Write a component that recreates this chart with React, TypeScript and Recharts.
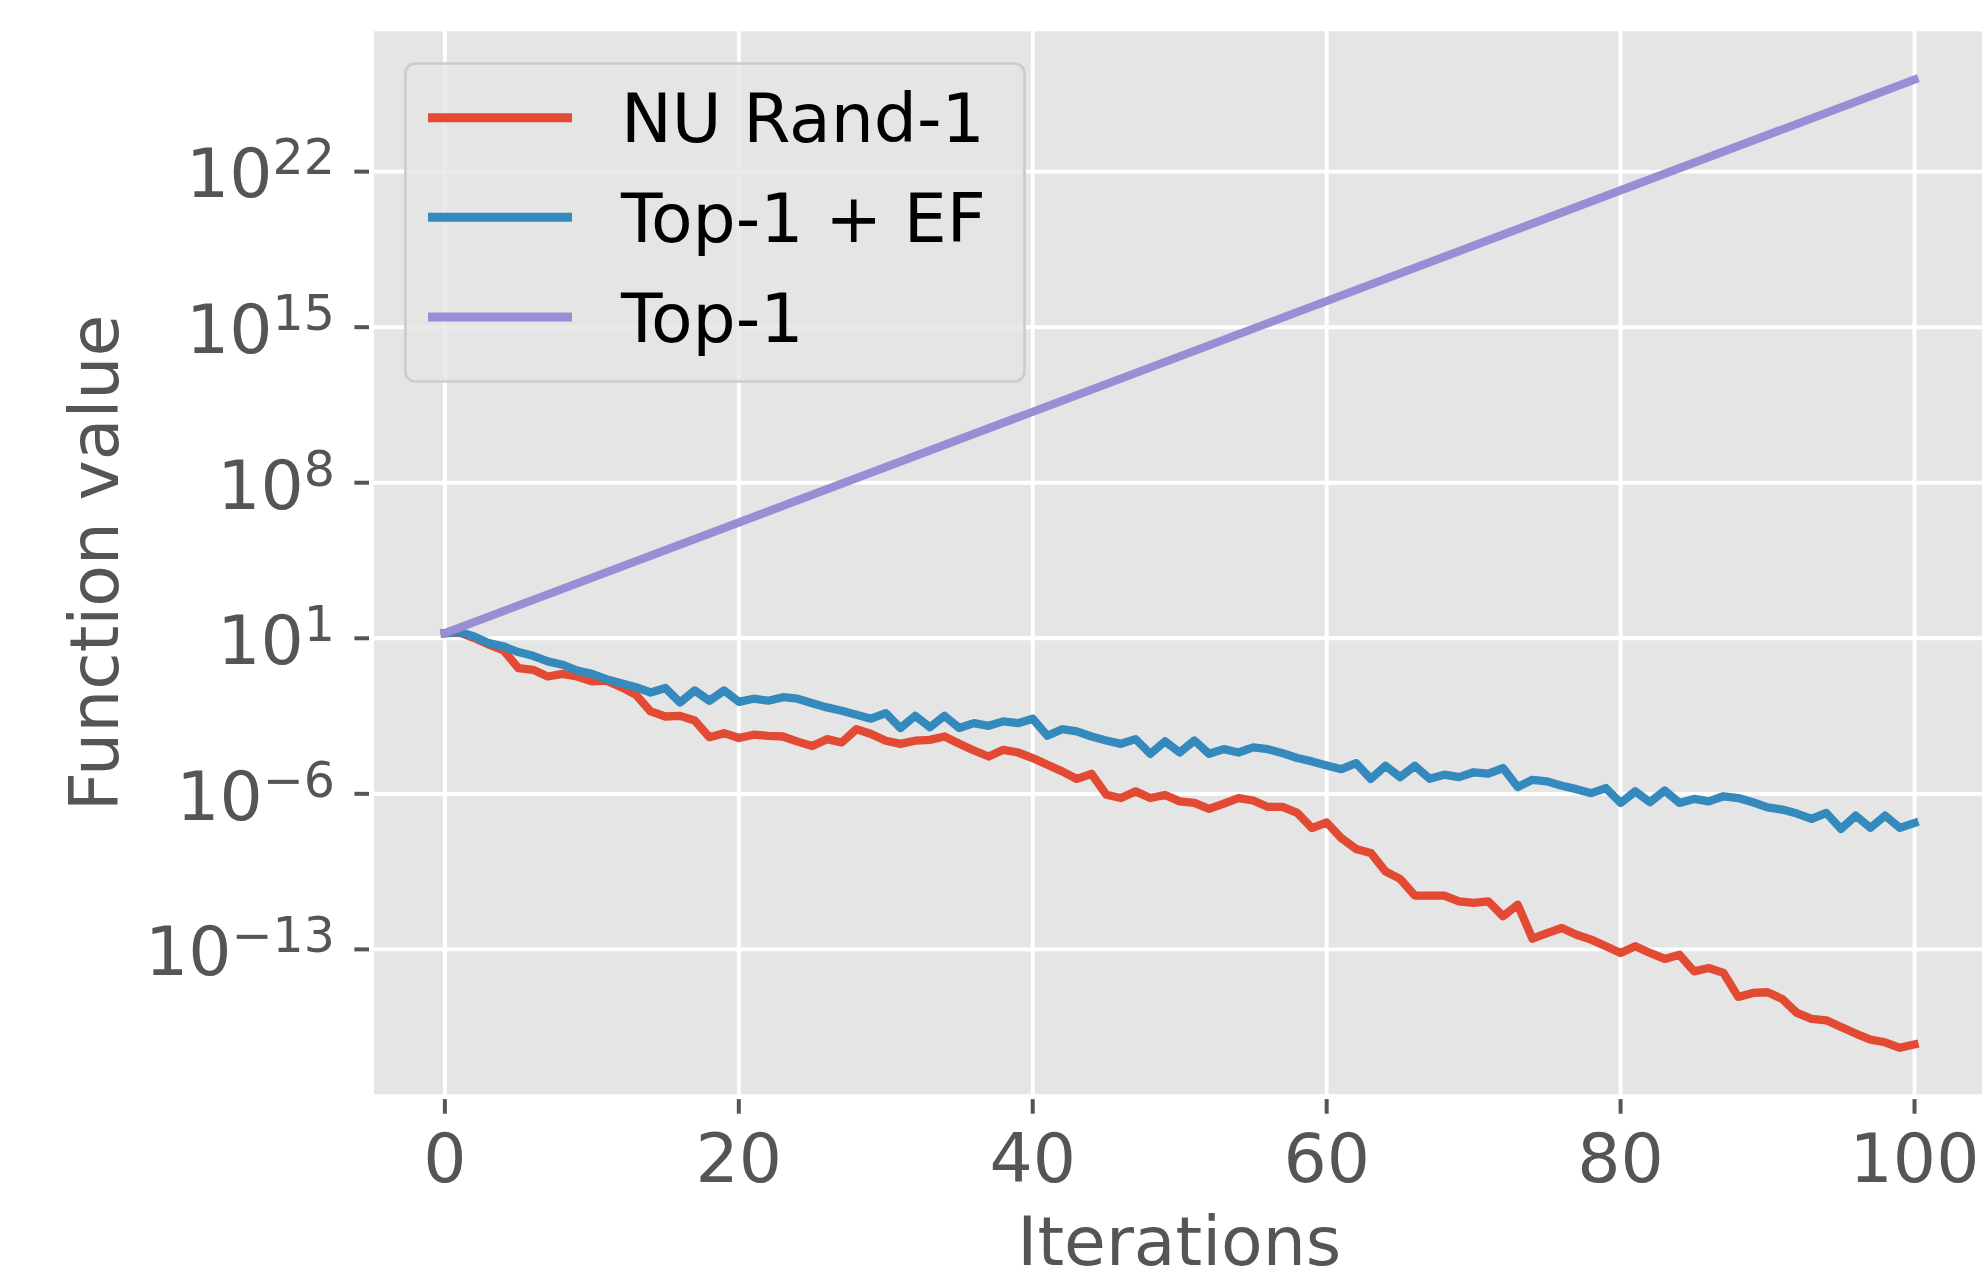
import { CartesianGrid, Label, Legend, Line, LineChart, XAxis, YAxis } from "recharts"

// log10 of the function value, one entry per iteration 0..100
const nuRand1Log = [
  1.23, 1.26, 1.01, 0.71, 0.45, -0.34, -0.42, -0.72, -0.6, -0.72,
  -0.94, -0.91, -1.2, -1.54, -2.29, -2.52, -2.49, -2.7, -3.45, -3.27,
  -3.49, -3.34, -3.39, -3.42, -3.65, -3.85, -3.54, -3.69, -3.09, -3.31,
  -3.61, -3.75, -3.61, -3.57, -3.42, -3.75, -4.05, -4.32, -4.02, -4.14,
  -4.39, -4.69, -4.99, -5.33, -5.1, -6.04, -6.19, -5.89, -6.19, -6.05,
  -6.34, -6.41, -6.68, -6.44, -6.19, -6.3, -6.59, -6.59, -6.86, -7.54,
  -7.29, -7.99, -8.48, -8.66, -9.49, -9.83, -10.58, -10.58, -10.58, -10.84,
  -10.91, -10.84, -11.51, -10.99, -12.52, -12.27, -12.04, -12.34, -12.56, -12.86,
  -13.16, -12.86, -13.16, -13.43, -13.24, -13.99, -13.84, -14.06, -15.14, -14.96,
  -14.93, -15.23, -15.86, -16.13, -16.19, -16.49, -16.79, -17.06, -17.18, -17.43,
  -17.28,
]

const topEfLog = [
  1.23, 1.28, 1.08, 0.78, 0.63, 0.38, 0.21, -0.04, -0.19, -0.45,
  -0.6, -0.84, -1.02, -1.2, -1.44, -1.24, -1.89, -1.35, -1.81, -1.35,
  -1.86, -1.72, -1.81, -1.65, -1.72, -1.92, -2.11, -2.26, -2.44, -2.62,
  -2.37, -3.04, -2.49, -3.0, -2.49, -3.04, -2.82, -2.94, -2.74, -2.82,
  -2.62, -3.39, -3.09, -3.19, -3.42, -3.6, -3.75, -3.54, -4.2, -3.64,
  -4.14, -3.6, -4.2, -3.99, -4.14, -3.91, -3.99, -4.17, -4.39, -4.54,
  -4.72, -4.89, -4.62, -5.33, -4.74, -5.25, -4.74, -5.32, -5.14, -5.25,
  -5.03, -5.09, -4.84, -5.69, -5.37, -5.44, -5.64, -5.79, -5.97, -5.74,
  -6.41, -5.89, -6.38, -5.85, -6.41, -6.23, -6.34, -6.11, -6.19, -6.38,
  -6.61, -6.71, -6.89, -7.13, -6.86, -7.58, -6.98, -7.53, -6.98, -7.53,
  -7.31,
]

// Top-1 is a straight line on the log axis: read at both ends
const top1Iters = [0, 100]
const top1Log = [1.23, 26.14]

const xTicks = [0, 20, 40, 60, 80, 100]
const yTicks = [1e22, 1e15, 1e8, 1e1, 1e-6, 1e-13]

const rows = nuRand1Log.map((v, i) => {
  const j = top1Iters.indexOf(i)
  return {
    iter: i,
    nuRand: 10 ** v,
    topEf: 10 ** topEfLog[i],
    top1: j >= 0 ? 10 ** top1Log[j] : null,
  }
})

const series = [
  { key: "nuRand", name: "NU Rand-1", color: "#E24A33" },
  { key: "topEf", name: "Top-1 + EF", color: "#348ABD" },
  { key: "top1", name: "Top-1", color: "#988ED5" },
]

const FONT = "DejaVu Sans"
const GREY = "#555555"

function XTick({ x, y, payload }: any) {
  return (
    <g>
      <line x1={x} x2={x} y1={y + 2.4} y2={y + 17} stroke={GREY} strokeWidth={4} />
      <text x={x} y={y + 85} textAnchor="middle" fill={GREY} fontSize={68} fontFamily={FONT}>
        {payload.value}
      </text>
    </g>
  )
}

function YTick({ x, y, payload }: any) {
  const e = Math.round(Math.log10(payload.value))
  const exp = e < 0 ? `\u2212${-e}` : `${e}`
  return (
    <g>
      <line x1={x - 2.4} x2={x - 17} y1={y} y2={y} stroke={GREY} strokeWidth={4} />
      <text x={x - 36.5} y={y + 25.8} textAnchor="end" fill={GREY} fontSize={68} fontFamily={FONT}>
        <tspan>10</tspan>
        <tspan dy={-23} fontSize={49}>
          {exp}
        </tspan>
      </text>
    </g>
  )
}

const renderLegend = () => (
  <svg width={624} height={322} style={{ display: "block" }}>
    <rect x={1.3} y={1.5} width={619.2} height={318} rx={10} fill="rgba(229,229,229,0.8)" stroke="#CCCCCC" strokeWidth={2.7} />
    {series.map((s, i) => {
      const cy = 55.7 + i * 99.65
      return (
        <g key={s.key}>
          <line x1={24} x2={168} y1={cy} y2={cy} stroke={s.color} strokeWidth={9} />
          <text x={217} y={cy + 24.5} fill="#000000" fontSize={68} fontFamily={FONT}>
            {s.name}
          </text>
        </g>
      )
    })}
  </svg>
)

export default function App() {
  return (
    <div
      style={{
        position: "fixed",
        left: 0,
        top: 0,
        width: 1982,
        height: 1270,
        overflow: "hidden",
        background: "#ffffff",
      }}
    >
      <LineChart width={1988} height={1270} data={rows} margin={{ top: 29.2, right: 0, bottom: 0, left: 0 }}>
        <CartesianGrid fill="#E5E5E5" fillOpacity={1} stroke="#FFFFFF" strokeWidth={3.9} />
        <XAxis
          dataKey="iter"
          type="number"
          domain={[-5, 105]}
          ticks={xTicks}
          interval={0}
          allowDataOverflow
          height={173.3}
          axisLine={{ stroke: "#FFFFFF", strokeWidth: 4.9 }}
          tickLine={false}
          tickSize={0}
          tickMargin={0}
          tick={<XTick />}
        >
          <Label
            content={() => (
              <text x={1179.3} y={1265} textAnchor="middle" fill={GREY} fontSize={68} fontFamily={FONT}>
                Iterations
              </text>
            )}
          />
        </XAxis>
        <YAxis
          type="number"
          scale="log"
          domain={[10 ** -19.63, 10 ** 28.41]}
          ticks={yTicks}
          interval={0}
          allowDataOverflow
          width={371.4}
          axisLine={{ stroke: "#FFFFFF", strokeWidth: 4.9 }}
          tickLine={false}
          tickSize={0}
          tickMargin={0}
          tick={<YTick />}
        >
          <Label
            content={() => (
              <text
                x={117.6}
                y={563}
                transform="rotate(-90, 117.6, 563)"
                textAnchor="middle"
                fill={GREY}
                fontSize={68}
                fontFamily={FONT}
              >
                Function value
              </text>
            )}
          />
        </YAxis>
        <Legend
          layout="vertical"
          align="center"
          verticalAlign="middle"
          content={renderLegend}
          wrapperStyle={{ left: 404, top: 62, width: 624, height: 322 }}
        />
        {series.map((s) => (
          <Line
            key={s.key}
            dataKey={s.key}
            name={s.name}
            stroke={s.color}
            strokeWidth={8.3}
            strokeLinejoin="round"
            strokeLinecap="square"
            dot={false}
            activeDot={false}
            connectNulls
            isAnimationActive={false}
          />
        ))}
      </LineChart>
    </div>
  )
}
